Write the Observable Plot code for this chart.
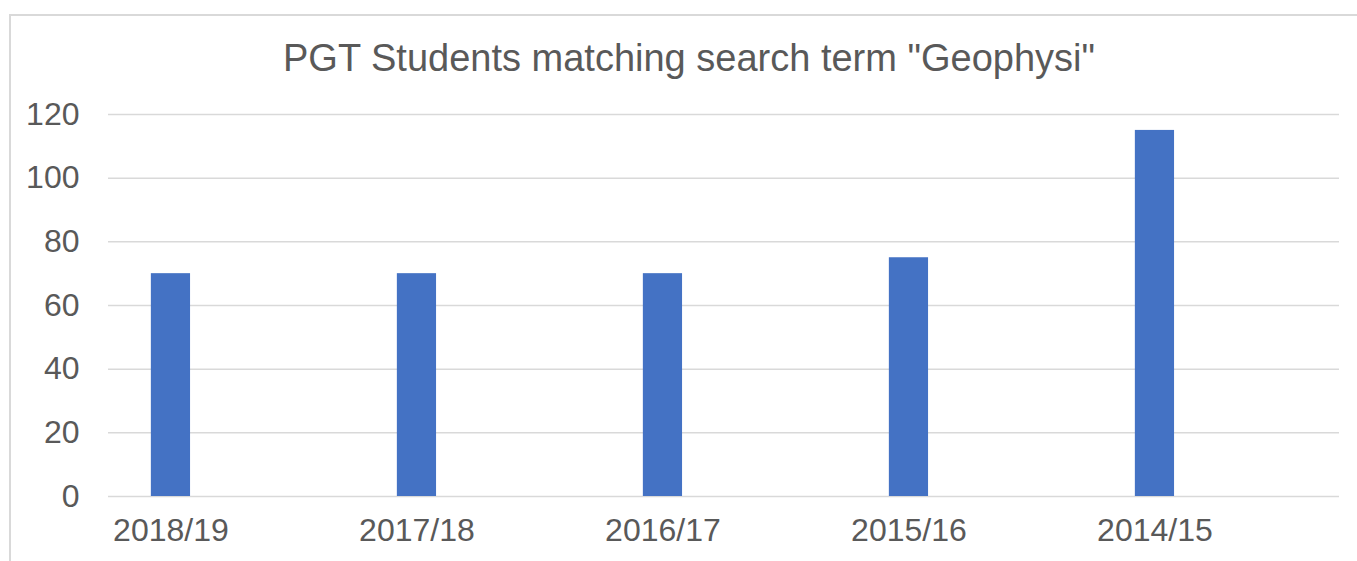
<!DOCTYPE html>
<html>
<head>
<meta charset="utf-8">
<script src="https://cdn.jsdelivr.net/npm/d3@7"></script>
<script src="https://cdn.jsdelivr.net/npm/@observablehq/plot@0.6"></script>
<style>
  html, body { margin: 0; padding: 0; background: #fff; }
  #wrap { position: relative; width: 1357px; height: 561px; overflow: hidden; font-family: "Liberation Sans", Arial, sans-serif; }
  #frame { position: absolute; left: 9px; top: 14px; width: 1500px; height: 700px; border: 2px solid #d9d9d9; box-sizing: border-box; }
  #title { position: absolute; left: 0; width: 1378px; top: 36px; text-align: center; font-size: 38px; color: #595959; line-height: 44px; white-space: nowrap; }
  #chart { position: absolute; left: 0; top: 80px; }
</style>
</head>
<body>
<div id="wrap">
  <div id="frame"></div>
  <div id="title">PGT Students matching search term "Geophysi"</div>
  <div id="chart"></div>
</div>
<script>
const years = ["2018/19", "2017/18", "2016/17", "2015/16", "2014/15"];
const students = [70, 70, 70, 75, 115];
const yTicks = [0, 20, 40, 60, 80, 100, 120];

const data = years.map((y, i) => ({year: y, value: students[i]}));

const W = 1357, H = 481, mL = 108, mR = 18;
const bw = (W - mL - mR) / years.length;

const plot = Plot.plot({
  width: W,
  height: H,
  marginLeft: mL,
  marginRight: mR,
  marginTop: 34,
  marginBottom: 65,
  style: {fontFamily: "'Liberation Sans', Arial, sans-serif", fontSize: "32px", color: "#595959", background: "transparent"},
  x: {domain: years, padding: 0, label: null},
  y: {domain: [0, 120], ticks: yTicks, label: null},
  marks: [
    Plot.gridY(yTicks, {stroke: "#d9d9d9", strokeOpacity: 1, strokeWidth: 1.5}),
    Plot.barY(data, {x: "year", y: "value", fill: "#4472C4", insetLeft: 0.17 * bw, insetRight: 0.67 * bw}),
    Plot.axisY(yTicks, {tickSize: 0, tickPadding: 29, fill: "#595959", fontSize: 32, label: null}),
    Plot.axisX({tickSize: 0, tickPadding: 22, fill: "#595959", fontSize: 32, label: null, dx: -0.25 * bw})
  ]
});
document.getElementById("chart").appendChild(plot);
</script>
</body>
</html>
